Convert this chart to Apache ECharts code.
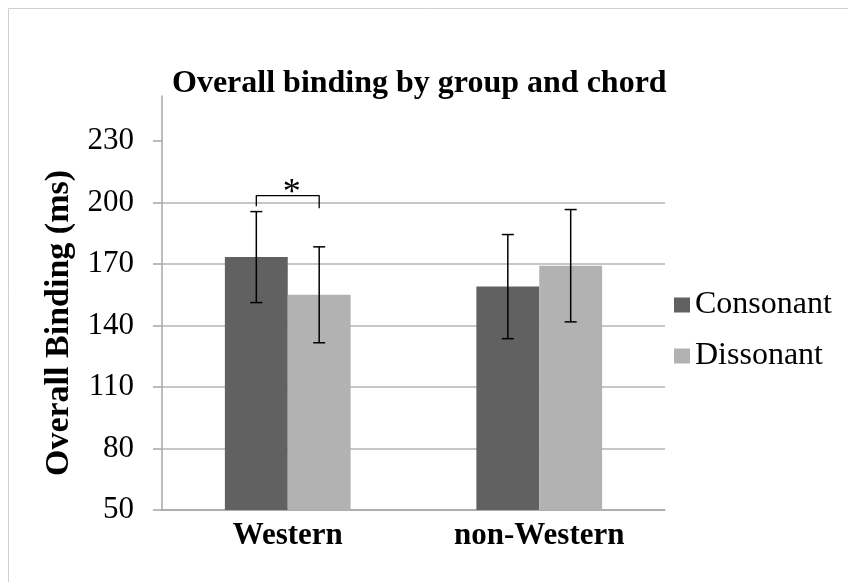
<!DOCTYPE html>
<html>
<head>
<meta charset="utf-8">
<script src="https://cdn.jsdelivr.net/npm/echarts@6/dist/echarts.min.js"></script>
<style>
  html, body { margin: 0; padding: 0; background: #ffffff; }
  #chart { width: 848px; height: 582px; }
</style>
</head>
<body>
<div id="chart"></div>
<script>
// Mean overall binding (ms) per listener group, with error bars
const groups = ['Western', 'non-Western'];
const seriesNames = ['Consonant', 'Dissonant'];
const consonant = [173.4, 159.0];
const dissonant = [155.0, 169.2];
const consonantErr = [22.2, 25.4];
const dissonantErr = [23.4, 27.4];
const yTicks = [50, 80, 110, 140, 170, 200, 230];
// significance bracket over the Western pair: [group, top, left leg end, right leg end]
const sigBracket = [[0, 203.4, 198.2, 197.2]];
const sigLabel = '*';

const serif = "'Liberation Serif', 'Times New Roman', serif";
const colors = ['#616161', '#b2b2b2'];

function errorData(values, errs) {
  return values.map((v, i) => [i, v, errs[i]]);
}

// Vertical whisker with caps, centred on the bar of the given side (-1 left, +1 right)
function errorRenderer(side) {
  return function (params, api) {
    const idx = api.value(0);
    const v = api.value(1);
    const e = api.value(2);
    const catW = api.size([1, 0])[0];
    const x = api.coord([idx, v])[0] + side * catW / 8;
    const yTop = api.coord([idx, v + e])[1];
    const yBot = api.coord([idx, v - e])[1];
    const cap = 6;
    const style = { stroke: '#000000', lineWidth: 1.5 };
    return {
      type: 'group',
      children: [
        { type: 'line', shape: { x1: x, y1: yTop, x2: x, y2: yBot }, style },
        { type: 'line', shape: { x1: x - cap, y1: yTop, x2: x + cap, y2: yTop }, style },
        { type: 'line', shape: { x1: x - cap, y1: yBot, x2: x + cap, y2: yBot }, style }
      ]
    };
  };
}

function bracketRenderer(params, api) {
  const idx = api.value(0);
  const catW = api.size([1, 0])[0];
  const cx = api.coord([idx, api.value(1)])[0];
  const yTop = api.coord([idx, api.value(1)])[1];
  const yL = api.coord([idx, api.value(2)])[1];
  const yR = api.coord([idx, api.value(3)])[1];
  const xl = cx - catW / 8;
  const xr = cx + catW / 8;
  return {
    type: 'group',
    children: [
      {
        type: 'polyline',
        shape: { points: [[xl, yL], [xl, yTop], [xr, yTop], [xr, yR]] },
        style: { stroke: '#000000', lineWidth: 1.3, fill: null, lineJoin: 'round' }
      },
      {
        type: 'text',
        style: {
          x: cx + 4, y: yTop + 16, text: sigLabel,
          font: '36px ' + serif, fill: '#000000',
          align: 'center', verticalAlign: 'bottom'
        }
      }
    ]
  };
}

const chart = echarts.init(document.getElementById('chart'), null, { renderer: 'canvas' });

chart.setOption({
  animation: false,
  backgroundColor: '#ffffff',
  graphic: [{
    type: 'rect',
    shape: { x: 8.5, y: 8.5, width: 900, height: 900 },
    style: { fill: null, stroke: '#d0d0d0', lineWidth: 1 },
    silent: true,
    z: -10
  }],
  title: {
    text: 'Overall binding by group and chord',
    left: 167,
    top: 63,
    textStyle: { fontFamily: serif, fontWeight: 'bold', fontSize: 32, color: '#000000' }
  },
  legend: {
    orient: 'vertical',
    left: 669,
    top: 284,
    itemWidth: 16,
    itemHeight: 15,
    itemGap: 19,
    icon: 'rect',
    data: seriesNames,
    textStyle: { fontFamily: serif, fontSize: 32, color: '#000000' }
  },
  grid: { left: 162, right: 183, top: 96, bottom: 72 },
  xAxis: {
    type: 'category',
    data: groups,
    axisLine: { show: true, lineStyle: { color: '#a6a6a6', width: 1.5 } },
    axisTick: { show: false },
    axisLabel: {
      margin: 10,
      fontFamily: serif, fontWeight: 'bold', fontSize: 31, color: '#000000'
    }
  },
  yAxis: {
    type: 'value',
    min: 50,
    max: 252,
    interval: 30,
    name: 'Overall Binding (ms)',
    nameLocation: 'middle',
    nameGap: 82,
    nameTextStyle: {
      fontFamily: serif, fontWeight: 'bold', fontSize: 34, color: '#000000',
      padding: [0, 40, 0, 0]
    },
    axisLine: { show: true, lineStyle: { color: '#a6a6a6', width: 1.5 } },
    axisTick: {
      show: true, length: 9, inside: false,
      customValues: yTicks,
      lineStyle: { color: '#a6a6a6', width: 1.5 }
    },
    axisLabel: {
      margin: 28,
      customValues: yTicks,
      fontFamily: serif, fontSize: 31, color: '#000000'
    },
    splitLine: {
      show: true, showMaxLine: false,
      lineStyle: { color: '#b4b4b4', width: 1.5 }
    }
  },
  series: [
    {
      name: seriesNames[0],
      type: 'bar',
      data: consonant,
      barGap: '0%',
      barCategoryGap: '50%',
      itemStyle: { color: colors[0] }
    },
    {
      name: seriesNames[1],
      type: 'bar',
      data: dissonant,
      barGap: '0%',
      barCategoryGap: '50%',
      itemStyle: { color: colors[1] }
    },
    {
      type: 'custom',
      renderItem: errorRenderer(-1),
      data: errorData(consonant, consonantErr),
      encode: { x: 0, y: 1 },
      z: 10,
      silent: true
    },
    {
      type: 'custom',
      renderItem: errorRenderer(1),
      data: errorData(dissonant, dissonantErr),
      encode: { x: 0, y: 1 },
      z: 10,
      silent: true
    },
    {
      type: 'custom',
      renderItem: bracketRenderer,
      data: sigBracket,
      encode: { x: 0, y: 1 },
      z: 10,
      silent: true
    }
  ]
});
</script>
</body>
</html>
